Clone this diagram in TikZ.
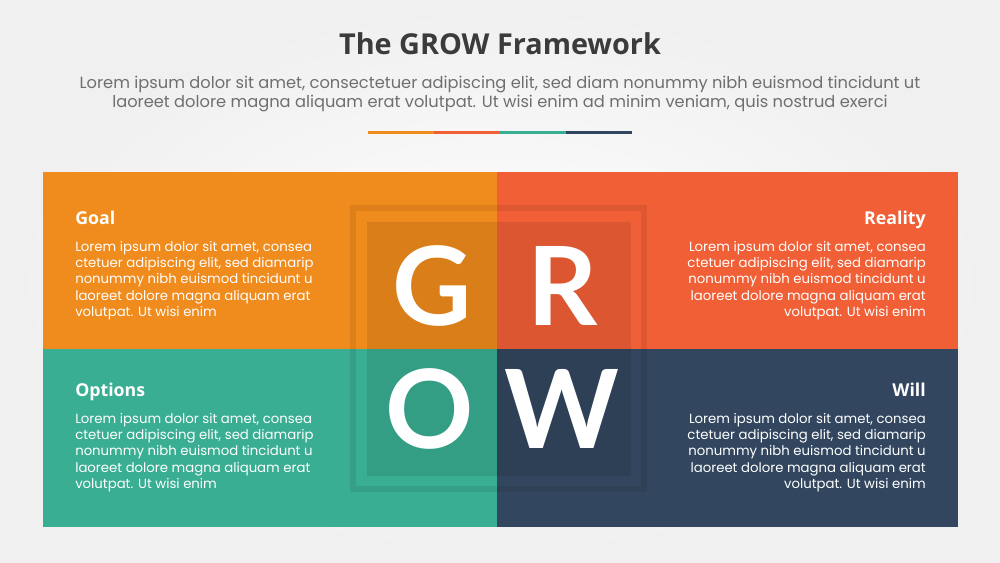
\documentclass[tikz,border=0pt]{standalone}
\usepackage{fontspec}
\setmainfont{Poppins}
\newfontfamily\headfont{Open Sans}
\newfontfamily\letterfont{Lato}
\usetikzlibrary{positioning}

\definecolor{growOrange}{HTML}{F08B1D}
\definecolor{growRed}{HTML}{F15F36}
\definecolor{growTeal}{HTML}{3AAE93}
\definecolor{growNavy}{HTML}{32475F}
\definecolor{titlegray}{HTML}{3B3B3B}
\definecolor{subgray}{HTML}{6F6F6F}

\newcommand{\loremtext}{Lorem ipsum dolor sit amet, consea\\ctetuer adipiscing elit, sed diamarip\\nonummy nibh euismod tincidunt u\\laoreet dolore magna aliquam erat\\volutpat. Ut wisi enim}

\tikzset{
    quad/.style={rectangle, inner sep=0pt, outer sep=0pt, minimum height=133pt,
        fill=#1, draw=#1, line width=0.6pt},
    head/.style={
        inner sep=0pt, text=white,
        font=\headfont\bfseries\fontsize{13.3}{16}\selectfont,
        text height=10pt, text depth=0pt
    },
    body/.style={
        inner sep=0pt, text=white,
        font=\fontsize{9.95}{12.2}\selectfont
    },
    bigletter/.style={
        inner sep=0pt, text=white, anchor=base,
        font=\letterfont\bfseries\fontsize{82}{82}\selectfont
    },
    bar/.style={line width=2.25pt}
}

\begin{document}
\begin{tikzpicture}[x=0.75pt, y=-0.75pt]

\useasboundingbox (0,0) rectangle (1000,563);
\shade[inner color=gray!1, outer color=gray!12] (0,0) rectangle (1000,563);

% ============ Title ============

\node[font=\headfont\bfseries\fontsize{21.6}{26}\selectfont, text=titlegray] (title) at (500,44)
    {The GROW Framework};
\node[font=\fontsize{12.2}{14.25}\selectfont, text=subgray, align=center, below=9pt of title] (subtitle)
    {Lorem ipsum dolor sit amet, consectetuer adipiscing elit, sed diam nonummy nibh euismod tincidunt ut\\
     laoreet dolore magna aliquam erat volutpat. Ut wisi enim ad minim veniam, quis nostrud exerci};

\draw[bar, growOrange] (368,133) -- (434,133);
\draw[bar, growRed] (434,133) -- (500,133);
\draw[bar, growTeal] (500,133) -- (566,133);
\draw[bar, growNavy] (566,133) -- (632,133);

% ============ Quadrants ============

\node[quad=growOrange, minimum width=340.5pt, anchor=north west] (goal) at (43,172) {};
\node[quad=growRed, minimum width=345pt, right=0pt of goal] (reality) {};
\node[quad=growTeal, minimum width=340.5pt, below=0pt of goal] (options) {};
\node[quad=growNavy, minimum width=345pt, right=0pt of options] (will) {};

% ============ Centre square ============

\draw[black, opacity=0.08, line width=4.5pt] (353,208) rectangle (644,489);
\fill[black, opacity=0.09] (367,222) rectangle (631,476);

\node[bigletter] (letterG) at (432,325) {G};
\node[bigletter] (letterR) at (563,325) {R};
\node[bigletter] (letterO) at (430,448) {O};
\node[bigletter] (letterW) at (562,448) {W};

% ============ Texts ============

\node[head, anchor=base west] (goalT) at (75,224) {Goal};
\node[body, align=left, below=12.5pt of goalT.south west, anchor=north west] (goalB) {\loremtext};

\node[head, anchor=base east] (realityT) at (926,224) {Reality};
\node[body, align=right, below=12.5pt of realityT.south east, anchor=north east] (realityB) {\loremtext};

\node[head, anchor=base west] (optionsT) at (75,396) {Options};
\node[body, align=left, below=12.5pt of optionsT.south west, anchor=north west] (optionsB) {\loremtext};

\node[head, anchor=base east] (willT) at (926,396) {Will};
\node[body, align=right, below=12.5pt of willT.south east, anchor=north east] (willB) {\loremtext};

\end{tikzpicture}
\end{document}
